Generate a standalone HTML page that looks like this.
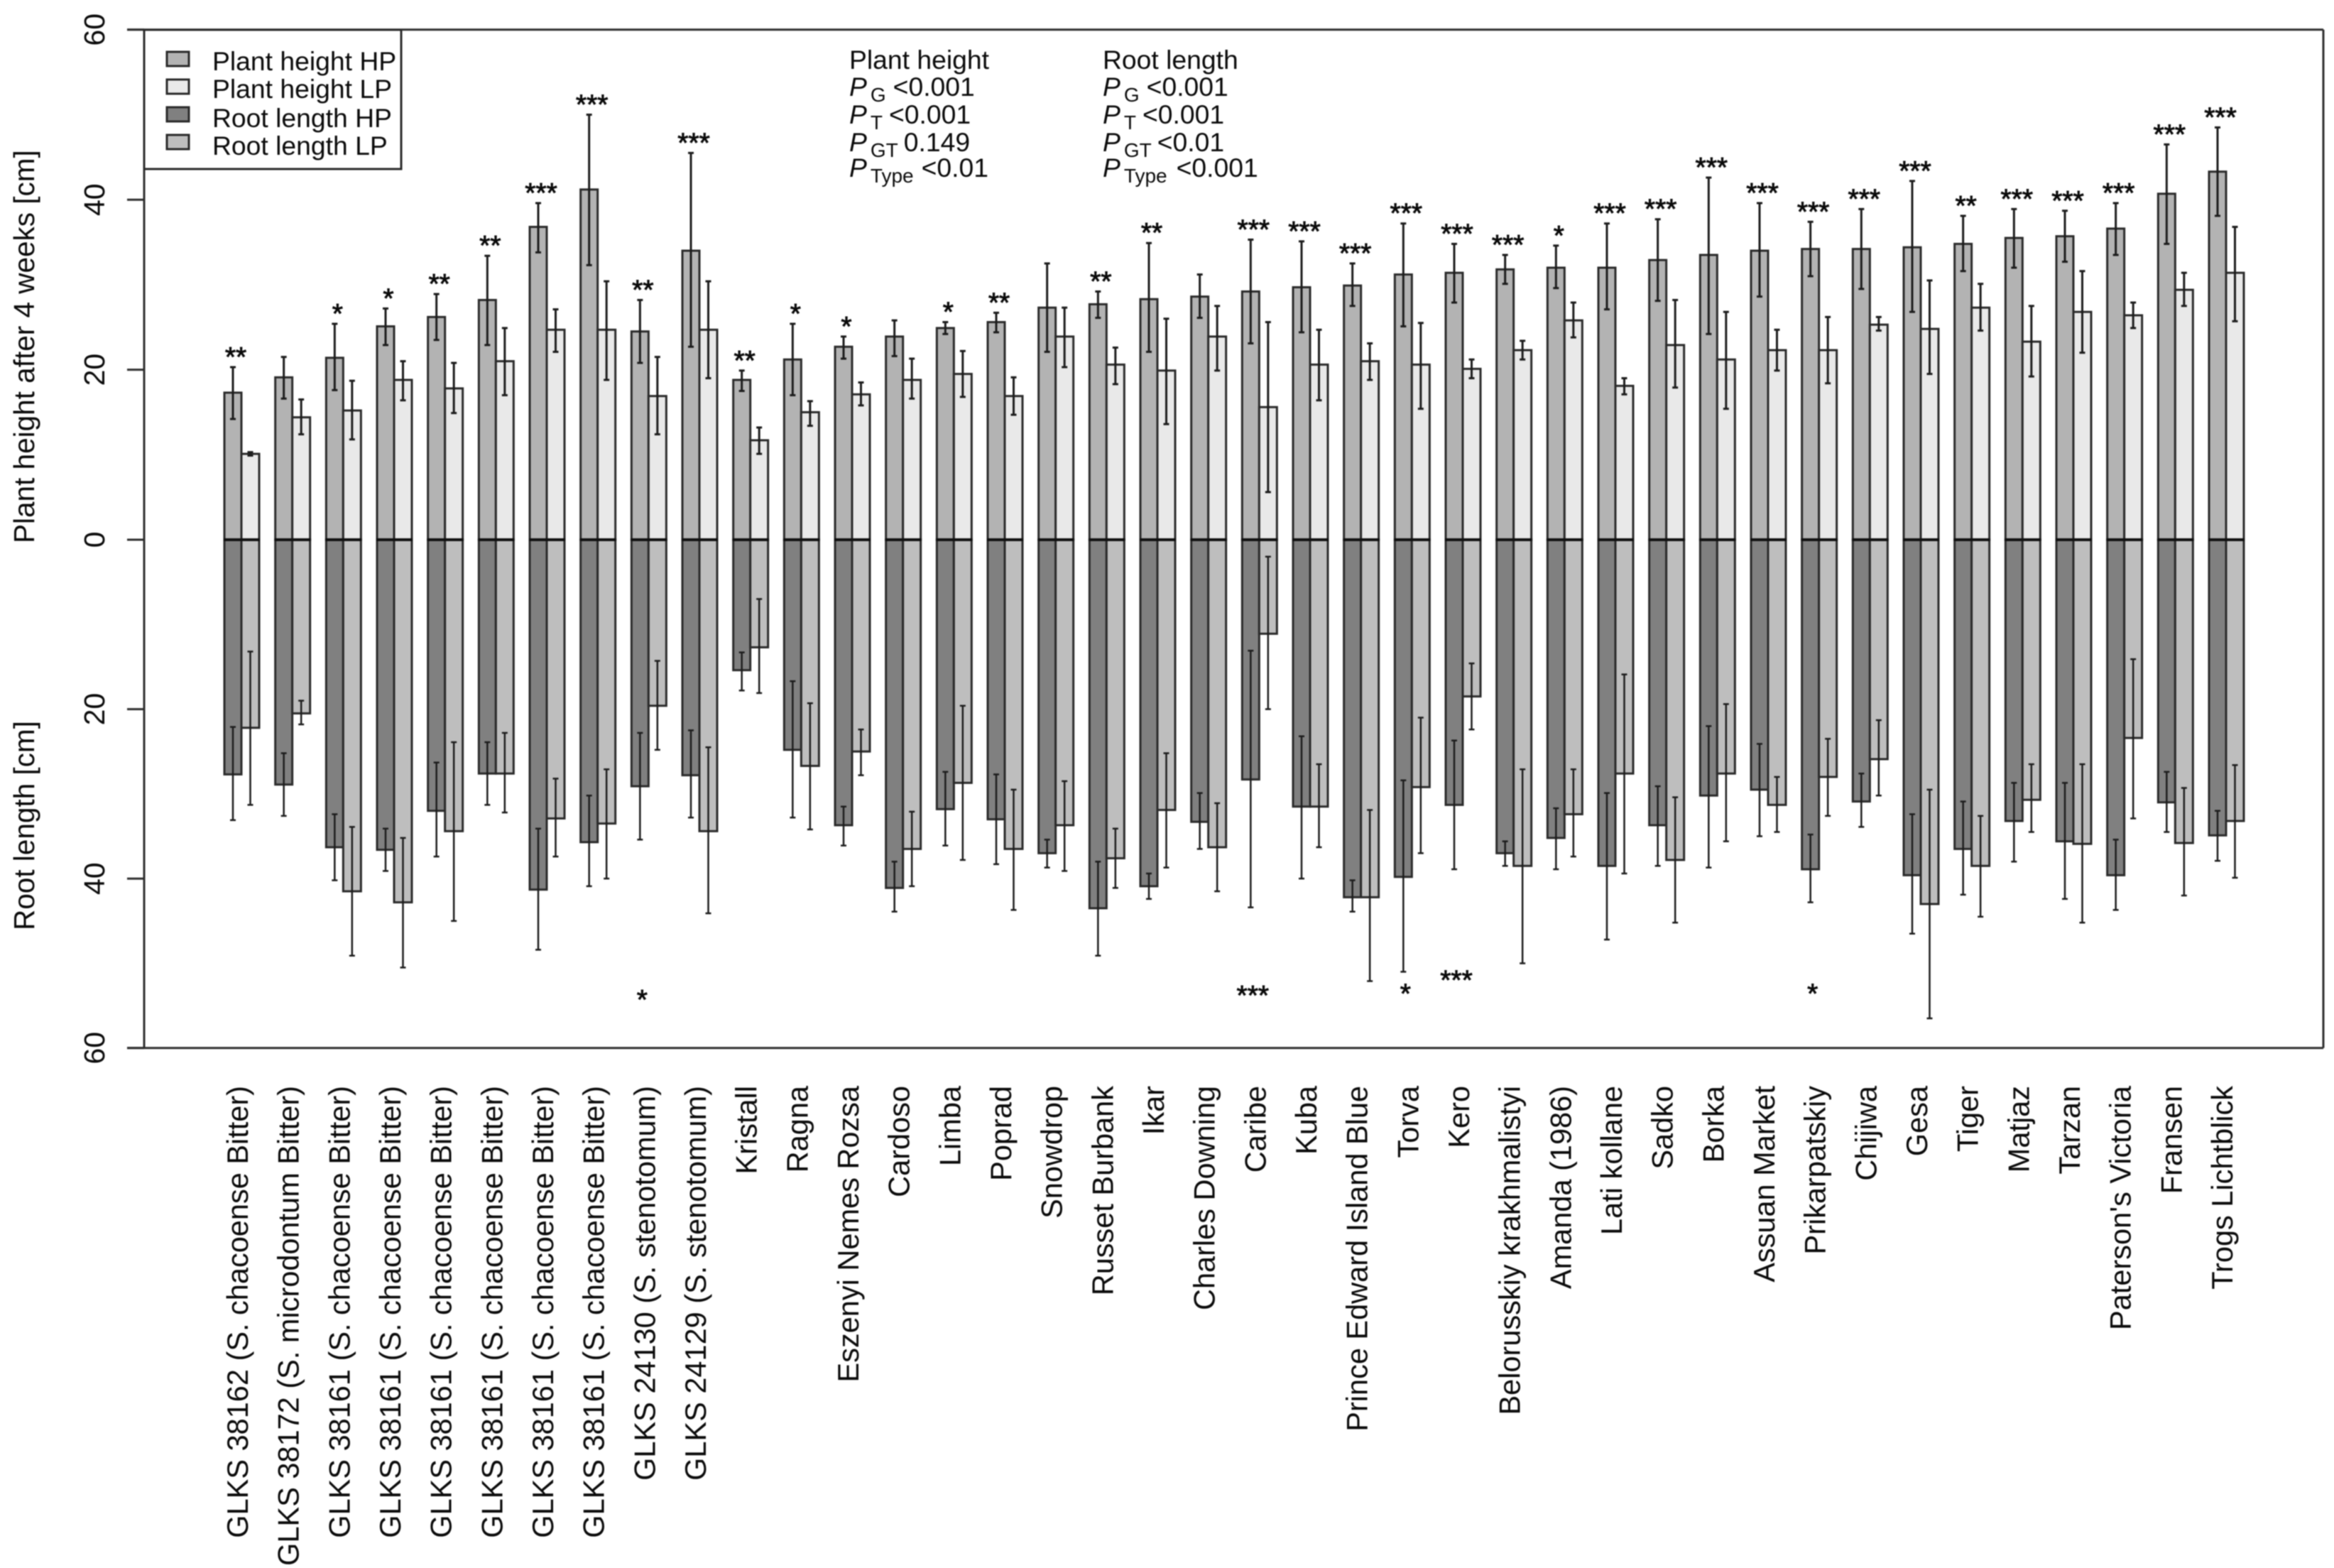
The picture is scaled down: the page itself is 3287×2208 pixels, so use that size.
<!DOCTYPE html>
<html lang="en">
<head>
<meta charset="utf-8">
<title>Plant height and root length by genotype</title>
<style>
html,body{margin:0;padding:0;background:#fff;}
svg{display:block;filter:blur(0.7px);}
text{font-family:"Liberation Sans",sans-serif;fill:#0a0a0a;}
</style>
</head>
<body>
<svg id="chart" xmlns="http://www.w3.org/2000/svg" width="3287" height="2208" viewBox="0 0 3287 2208">
<rect x="0" y="0" width="3287" height="2208" fill="#fff"/>
<g id="marks"></g>
<g id="axes"></g>
<text transform="translate(48,765) rotate(-90)" font-size="40.5">Plant height after 4 weeks [cm]</text>
<text transform="translate(48,1310) rotate(-90)" font-size="40.5">Root length [cm]</text>
<g>
<rect x="203" y="42" width="362" height="196" fill="#fff" stroke="#2a2a2a" stroke-width="3"/>
<rect x="235" y="73" width="31" height="20" fill="#b3b3b3" stroke="#2a2a2a" stroke-width="3"/>
<rect x="235" y="112" width="31" height="20" fill="#e9e9e9" stroke="#2a2a2a" stroke-width="3"/>
<rect x="235" y="151" width="31" height="20" fill="#808080" stroke="#2a2a2a" stroke-width="3"/>
<rect x="235" y="190" width="31" height="20" fill="#bebebe" stroke="#2a2a2a" stroke-width="3"/>
<text x="299" y="99" font-size="37.3">Plant height HP</text>
<text x="299" y="138" font-size="37.3">Plant height LP</text>
<text x="299" y="179" font-size="37.3">Root length HP</text>
<text x="299" y="218" font-size="37.3">Root length LP</text>
</g>
<g font-size="37.3">
<text x="1196" y="97">Plant height</text>
<text x="1196" y="135"><tspan font-style="italic">P</tspan><tspan dx="5" dy="8" font-size="28">G</tspan><tspan dx="10" dy="-8">&lt;0.001</tspan></text>
<text x="1196" y="174"><tspan font-style="italic">P</tspan><tspan dx="5" dy="8" font-size="28">T</tspan><tspan dx="9" dy="-8">&lt;0.001</tspan></text>
<text x="1196" y="213"><tspan font-style="italic">P</tspan><tspan dx="5" dy="8" font-size="28">GT</tspan><tspan dx="8" dy="-8">0.149</tspan></text>
<text x="1196" y="249"><tspan font-style="italic">P</tspan><tspan dx="5" dy="8" font-size="28">Type</tspan><tspan dx="11" dy="-8">&lt;0.01</tspan></text>
</g>
<g font-size="37.3">
<text x="1553" y="97">Root length</text>
<text x="1553" y="135"><tspan font-style="italic">P</tspan><tspan dx="5" dy="8" font-size="28">G</tspan><tspan dx="10" dy="-8">&lt;0.001</tspan></text>
<text x="1553" y="174"><tspan font-style="italic">P</tspan><tspan dx="5" dy="8" font-size="28">T</tspan><tspan dx="9" dy="-8">&lt;0.001</tspan></text>
<text x="1553" y="213"><tspan font-style="italic">P</tspan><tspan dx="5" dy="8" font-size="28">GT</tspan><tspan dx="8" dy="-8">&lt;0.01</tspan></text>
<text x="1553" y="249"><tspan font-style="italic">P</tspan><tspan dx="5" dy="8" font-size="28">Type</tspan><tspan dx="13" dy="-8">&lt;0.001</tspan></text>
</g>
</svg>
<script>
const categories = ["GLKS 38162 (S. chacoense Bitter)","GLKS 38172 (S. microdontum Bitter)","GLKS 38161 (S. chacoense Bitter)","GLKS 38161 (S. chacoense Bitter)","GLKS 38161 (S. chacoense Bitter)","GLKS 38161 (S. chacoense Bitter)","GLKS 38161 (S. chacoense Bitter)","GLKS 38161 (S. chacoense Bitter)","GLKS 24130 (S. stenotomum)","GLKS 24129 (S. stenotomum)","Kristall","Ragna","Eszenyi Nemes Rozsa","Cardoso","Limba","Poprad","Snowdrop","Russet Burbank","Ikar","Charles Downing","Caribe","Kuba","Prince Edward Island Blue","Torva","Kero","Belorusskiy krakhmalistyi","Amanda (1986)","Lati kollane","Sadko","Borka","Assuan Market","Prikarpatskiy","Chijiwa","Gesa","Tiger","Matjaz","Tarzan","Paterson's Victoria","Fransen","Trogs Lichtblick"];
const plantHp = [17.3,19.1,21.4,25.1,26.2,28.2,36.8,41.2,24.5,34,18.8,21.2,22.7,23.9,24.9,25.6,27.3,27.7,28.3,28.6,29.2,29.7,29.9,31.2,31.4,31.8,32,32,32.9,33.5,34,34.2,34.2,34.4,34.8,35.5,35.7,36.6,40.7,43.3];
const plantHpHigh = [20.3,21.5,25.4,27.2,28.9,33.4,39.6,50,28.2,45.5,19.9,25.4,23.9,25.8,25.6,26.7,32.5,29.2,34.9,31.2,35.3,35.1,32.5,37.2,34.8,33.5,34.6,37.2,37.7,42.6,39.6,37.4,38.9,42.2,38.1,38.9,38.7,39.6,46.5,48.5];
const plantHpLow = [14.2,16.6,17.6,22.9,23.5,22.9,33.8,32.3,20.8,22.7,17.5,17,21.3,21.6,24.2,24.4,22.1,26.1,22.1,26.1,23.1,24.4,27.5,25.1,27.9,30.1,29.6,27.1,28.1,24.2,28.6,31,29.5,26.8,31.6,32,32.7,33.5,34.8,38.1];
const plantLp = [10.1,14.4,15.2,18.8,17.8,21,24.7,24.7,16.9,24.7,11.7,15,17.1,18.8,19.5,16.9,23.9,20.6,19.9,23.9,15.6,20.6,21,20.6,20.1,22.3,25.8,18.1,22.9,21.2,22.3,22.3,25.3,24.8,27.3,23.3,26.8,26.4,29.4,31.4];
const plantLpHigh = [10.3,16.5,18.7,21,20.8,24.9,27.1,30.4,21.5,30.4,13.2,16.3,18.5,21.3,22.2,19.1,27.3,22.6,26,27.5,25.6,24.7,23.1,25.5,21.2,23.4,27.9,19,28.2,26.8,24.7,26.2,26.2,30.5,30.1,27.5,31.6,27.9,31.4,36.8];
const plantLpLow = [9.9,12.4,11.8,16.4,14.9,17,22.1,18.8,12.4,19,10.1,13.4,15.8,16.6,16.8,14.7,20.3,18.3,13.6,19.9,5.6,16.4,18.8,15.4,19,21.2,23.8,17.1,17.9,15.4,19.9,18.4,24.6,19.5,24.6,19.2,22,24.9,27.5,25.7];
const rootHp = [27.7,28.9,36.3,36.6,32,27.6,41.3,35.7,29.1,27.8,15.4,24.8,33.7,41.1,31.8,33,37,43.5,40.9,33.3,28.3,31.5,42.2,39.8,31.3,37,35.2,38.5,33.7,30.2,29.5,38.9,30.9,39.6,36.5,33.2,35.6,39.6,31,34.9];
const rootHpNear = [22.1,25.2,32.4,34.1,26.3,23.9,34.1,30.2,22.8,22.5,13.3,16.7,31.5,38,27.4,27.7,35.4,38,39.4,29.9,13.1,23.2,40.2,28.4,23.7,35.6,31.7,29.9,29.1,22,24.1,34.8,27.6,32.4,30.9,28.7,28.7,35.4,27.4,32];
const rootHpFar = [33.1,32.6,40.2,39.1,37.4,31.3,48.4,40.9,35.4,32.8,17.8,32.8,36.1,43.9,36.1,38.3,38.7,49.1,42.4,36.5,43.4,40,43.9,51,38.9,38.5,38.9,47.2,38.5,38.7,35,42.8,33.9,46.5,41.9,38,42.4,43.7,34.5,37.9];
const rootLp = [22.2,20.5,41.5,42.8,34.4,27.6,32.9,33.5,19.6,34.4,12.7,26.7,25,36.5,28.7,36.5,33.7,37.6,31.9,36.3,11.1,31.5,42.2,29.2,18.5,38.5,32.4,27.6,37.8,27.6,31.3,28,25.9,43,38.5,30.7,35.9,23.4,35.8,33.2];
const rootLpNear = [13.2,19,33.9,35.2,23.9,22.8,28.2,27.1,14.3,24.5,7,19.3,22.4,32.1,19.6,29.5,28.5,34.1,25.2,31.1,2,26.5,31.9,21,14.6,27.1,27.1,15.9,30.4,19.4,28,23.5,21.3,29.5,32.6,26.5,26.5,14.1,29.3,26.6];
const rootLpFar = [31.3,21.8,49.1,50.5,45,32.2,37.4,40,24.8,44.1,18.1,34.2,27.8,40.9,37.8,43.7,39.1,41.1,38.7,41.5,20,36.3,52.1,37,22.4,50,37.4,39.4,45.2,35.6,34.5,32.6,30.2,56.5,44.5,34.5,45.2,32.9,42,39.9];
const plantSig = ["**","","*","*","**","**","***","***","**","***","**","*","*","","*","**","","**","**","","***","***","***","***","***","***","*","***","***","***","***","***","***","***","**","***","***","***","***","***"];
const rootSigGroups = ["GLKS 24130 (S. stenotomum)","Caribe","Torva","Kero","Prikarpatskiy"];
const rootSigMarks = ["*","***","*","***","*"];
const rootSigDepths = [53.8,53.3,53.1,51.5,53.1];
const tickLabels = [60,40,20,0,20,40,60];
const tickValues = [60,40,20,0,-20,-40,-60];

const NS = "http://www.w3.org/2000/svg";
const marks = document.getElementById("marks");
const axes = document.getElementById("axes");
const OUT = "#2a2a2a";

function yUp(v){ return 760 - v * 11.97; }
function yDown(v){ return 760 + v * 11.93; }
function yAxis(v){ return v >= 0 ? yUp(v) : yDown(-v); }
function groupX(i){ return 340 + i * (3135 - 340) / (categories.length - 1); }

function make(tag, parent, attrs){
  const el = document.createElementNS(NS, tag);
  for (const k in attrs) el.setAttribute(k, attrs[k]);
  parent.appendChild(el);
  return el;
}
function barRect(parent, x, w, y0, y1, fill){
  return make("rect", parent, {x:x, y:Math.min(y0,y1), width:w, height:Math.abs(y1-y0), fill:fill, stroke:OUT, "stroke-width":3});
}
function errorBar(parent, x, y0, y1, sw){
  const g = make("g", parent, {stroke:"#1c1c1c", "stroke-width":sw, fill:"none"});
  make("line", g, {x1:x, x2:x, y1:y0, y2:y1});
  make("line", g, {x1:x-4, x2:x+4, y1:y0, y2:y0});
  make("line", g, {x1:x-4, x2:x+4, y1:y1, y2:y1});
  return g;
}

categories.forEach(function(name, i){
  const cx = groupX(i);
  const g = make("g", marks, {});
  
  

  const b1 = barRect(g, cx - 24, 24, yUp(0), yUp(plantHp[i]), "#b3b3b3");
  
  
  const b2 = barRect(g, cx, 25, yUp(0), yUp(plantLp[i]), "#e9e9e9");
  
  
  const b3 = barRect(g, cx - 24, 24, yDown(0), yDown(rootHp[i]), "#808080");
  
  
  const b4 = barRect(g, cx, 25, yDown(0), yDown(rootLp[i]), "#bebebe");
  
  

  const zero = make("line", g, {x1:cx-25, x2:cx+26, y1:yUp(0), y2:yUp(0), stroke:"#111", "stroke-width":4});
  
  

  const e1 = errorBar(g, cx - 12, yUp(plantHpHigh[i]), yUp(plantHpLow[i]), 3);
  
  
  const e2 = errorBar(g, cx + 12.5, yUp(plantLpHigh[i]), yUp(plantLpLow[i]), 3);
  
  
  const e3 = errorBar(g, cx - 12, yDown(rootHpNear[i]), yDown(rootHpFar[i]), 2.5);
  
  
  const e4 = errorBar(g, cx + 12.5, yDown(rootLpNear[i]), yDown(rootLpFar[i]), 2.5);
  
  

  if (plantSig[i]) {
    const s = make("text", g, {x:cx-8, y:yUp(plantHpHigh[i]) - 1, "font-size":39, "text-anchor":"middle", stroke:"#0a0a0a", "stroke-width":0.9});
    s.textContent = plantSig[i];
    
    
  }

  const lab = make("text", axes, {transform:"translate(" + (cx + 9) + ",1529) rotate(-90)", "font-size":41.5, "text-anchor":"end"});
  lab.textContent = name;
  
  
});

rootSigGroups.forEach(function(name, k){
  const idx = categories.indexOf(name);
  const s = make("text", marks, {x:groupX(idx)-9, y:yDown(rootSigDepths[k]) + 19, "font-size":39, "text-anchor":"middle", stroke:"#0a0a0a", "stroke-width":0.9});
  s.textContent = rootSigMarks[k];
  
  
});

const frame = make("g", axes, {stroke:"#2e2e2e", "stroke-width":3, fill:"none"});


make("line", frame, {x1:179, x2:3272, y1:yAxis(60), y2:yAxis(60)});
make("line", frame, {x1:179, x2:3272, y1:yAxis(-60), y2:yAxis(-60)});
make("line", frame, {x1:203, x2:203, y1:yAxis(60), y2:yAxis(-60)});
make("line", frame, {x1:3272, x2:3272, y1:yAxis(60), y2:yAxis(-60)});

tickValues.forEach(function(v, i){
  const y = yAxis(v);
  const t = make("line", axes, {x1:179, x2:203, y1:y, y2:y, stroke:"#2e2e2e", "stroke-width":3});
  
  
  const l = make("text", axes, {transform:"translate(147," + y + ") rotate(-90)", "font-size":41, "text-anchor":"middle"});
  l.textContent = tickLabels[i];
  
  
});
</script>
</body>
</html>
